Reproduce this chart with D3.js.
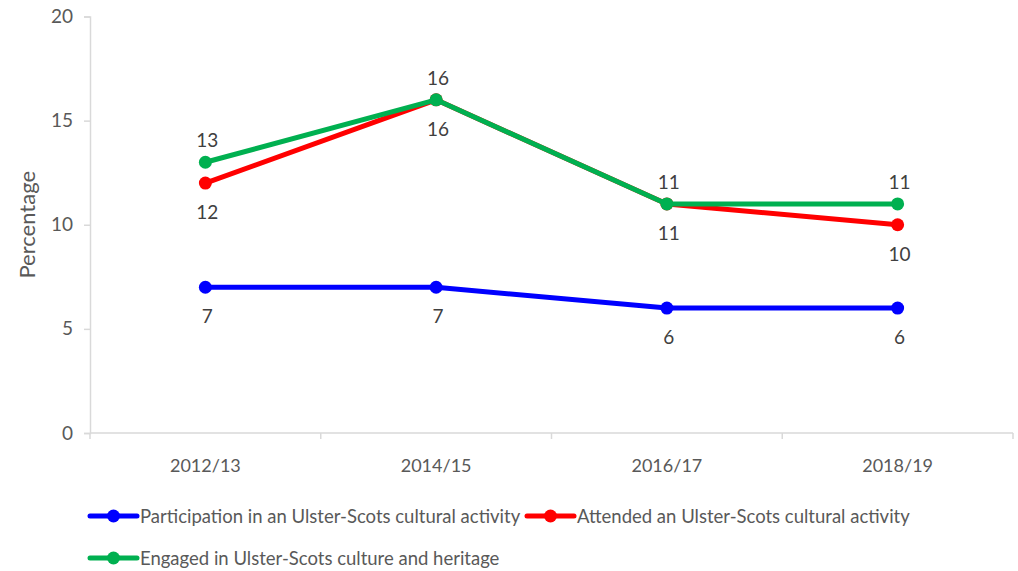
<!DOCTYPE html>
<html>
<head>
<meta charset="utf-8">
<script src="https://cdn.jsdelivr.net/npm/d3@7"></script>
<style>
  body { margin: 0; background: #fff; }
  svg text { font-family: Lato, "Open Sans", sans-serif; }
</style>
</head>
<body>
<svg id="chart" width="1018" height="571"></svg>
<script>
// Survey years
const years = ["2012/13", "2014/15", "2016/17", "2018/19"];

// Percentages per measure
const participation = [7, 7, 6, 6];
const attended = [12, 16, 11, 10];
const engaged = [13, 16, 11, 11];

const yTicks = [0, 5, 10, 15, 20];

const series = [
  { name: "Participation in an Ulster-Scots cultural activity", values: participation, color: "#0000ff", labelPos: "below" },
  { name: "Attended an Ulster-Scots cultural activity", values: attended, color: "#ff0000", labelPos: "below" },
  { name: "Engaged in Ulster-Scots culture and heritage", values: engaged, color: "#00b050", labelPos: "above" }
];

const svg = d3.select("#chart");
const margin = { left: 90, right: 5, top: 16, bottom: 138 };
const width = 1018, height = 571;

const x = d3.scaleBand().domain(years).range([margin.left, width - margin.right]).padding(0);
const y = d3.scaleLinear().domain([0, 20]).range([433, 16.5]);

const axisColor = "#d9d9d9";
const textColor = "#595959";

// Y axis
const yAxis = svg.append("g").attr("transform", `translate(${margin.left},0)`)
  .call(d3.axisLeft(y).tickValues(yTicks).tickSize(6).tickPadding(11));
yAxis.select(".domain").attr("stroke", axisColor).attr("stroke-width", 1.5);
yAxis.selectAll(".tick line").attr("stroke", axisColor).attr("stroke-width", 1.5);
yAxis.selectAll(".tick text").attr("fill", textColor).style("font-size", "19px");

// X axis with ticks on category boundaries
const xAxisG = svg.append("g").attr("transform", `translate(0,${y(0)})`);
xAxisG.append("line")
  .attr("x1", margin.left).attr("x2", width - margin.right)
  .attr("stroke", axisColor).attr("stroke-width", 1.5);
const boundaries = years.map(d => x(d)).concat([x(years[years.length - 1]) + x.bandwidth()]);
xAxisG.selectAll("line.bound").data(boundaries).join("line")
  .attr("class", "bound")
  .attr("x1", d => d).attr("x2", d => d)
  .attr("y1", 0).attr("y2", 6)
  .attr("stroke", axisColor).attr("stroke-width", 1.5);
xAxisG.selectAll("text").data(years).join("text")
  .attr("x", d => x(d) + x.bandwidth() / 2)
  .attr("y", 39)
  .attr("text-anchor", "middle")
  .attr("fill", textColor)
  .style("font-size", "18px")
  .text(d => d);

// Y axis title
svg.append("text")
  .attr("transform", `translate(35,${(y(0) + y(20)) / 2}) rotate(-90)`)
  .attr("text-anchor", "middle")
  .attr("fill", textColor)
  .style("font-size", "22px")
  .text("Percentage");

const cx = d => x(d) + x.bandwidth() / 2;
const line = d3.line().x(d => cx(d.year)).y(d => y(d.value));

// Lines and markers
series.forEach(s => {
  const pts = years.map((yr, i) => ({ year: yr, value: s.values[i] }));
  const g = svg.append("g");
  g.append("path").datum(pts)
    .attr("d", line)
    .attr("fill", "none")
    .attr("stroke", s.color)
    .attr("stroke-width", 5)
    .attr("stroke-linejoin", "round");
  g.selectAll("circle").data(pts).join("circle")
    .attr("cx", d => cx(d.year)).attr("cy", d => y(d.value))
    .attr("r", 6.5).attr("fill", s.color);
});

// Data labels
series.forEach(s => {
  const pts = years.map((yr, i) => ({ year: yr, value: s.values[i] }));
  svg.append("g").selectAll("text").data(pts).join("text")
    .attr("x", d => cx(d.year) + 2)
    .attr("y", d => y(d.value) + (s.labelPos === "above" ? -15 : 36))
    .attr("text-anchor", "middle")
    .attr("fill", "#404040")
    .style("font-size", "19px")
    .text(d => d.value);
});

// Legend
const legend = [
  { s: series[0], x: 90, y: 516 },
  { s: series[1], x: 527, y: 516 },
  { s: series[2], x: 90, y: 558 }
];
const lg = svg.append("g");
legend.forEach(l => {
  const g = lg.append("g").attr("transform", `translate(${l.x},${l.y})`);
  g.append("line").attr("x1", 0).attr("x2", 47).attr("y1", 0).attr("y2", 0)
    .attr("stroke", l.s.color).attr("stroke-width", 5).attr("stroke-linecap", "round");
  g.append("circle").attr("cx", 23.5).attr("cy", 0).attr("r", 6.5).attr("fill", l.s.color);
  g.append("text").attr("x", 50).attr("y", 6.5)
    .attr("fill", textColor).style("font-size", "18.5px")
    .text(l.s.name);
});
</script>
</body>
</html>
